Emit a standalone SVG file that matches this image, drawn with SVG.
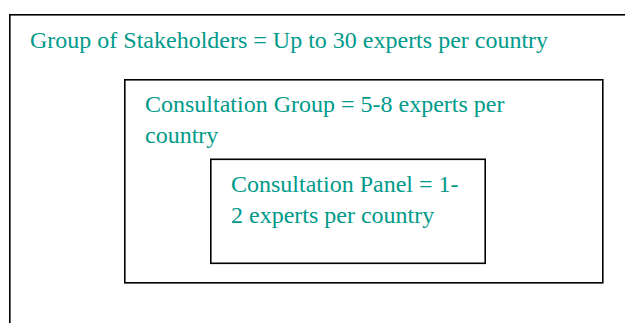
<svg xmlns="http://www.w3.org/2000/svg" width="625" height="323" viewBox="0 0 625 323">
<style>
.box{fill:none;stroke:#000;stroke-width:1.6}
.t{font-family:"Liberation Serif","Times New Roman",serif;font-size:24px;fill:#009a8a}
</style>
<rect width="625" height="323" fill="#fff"/>
<g id="stakeholders">
<rect class="box" x="9.8" y="14.8" width="640" height="340"/>
<text class="t" x="30" y="47.5">Group of Stakeholders = Up to 30 experts per country</text>
</g>
<g id="consultation-group">
<rect class="box" x="124.8" y="79.8" width="478" height="203"/>
<text class="t" x="145" y="112">Consultation Group = 5-8 experts per</text>
<text class="t" x="145" y="143">country</text>
</g>
<g id="consultation-panel">
<rect class="box" x="210.8" y="159.3" width="274.4" height="104"/>
<text class="t" x="231" y="192">Consultation Panel = 1-</text>
<text class="t" x="231" y="223">2 experts per country</text>
</g>
<g id="connectors"></g>
</svg>
